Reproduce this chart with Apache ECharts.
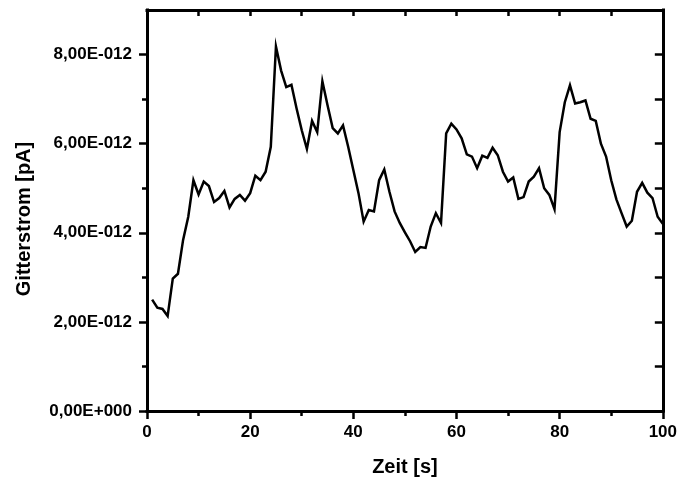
<!DOCTYPE html>
<html>
<head>
<meta charset="utf-8">
<script src="https://cdn.jsdelivr.net/npm/echarts@6/dist/echarts.min.js"></script>
<style>html,body{margin:0;padding:0;background:#fff}#c{width:680px;height:482px}</style>
</head>
<body>
<div id="c"></div>
<script>
// time in seconds
var time_s = [1,2,3,4,5,6,7,8,9,10,11,12,13,14,15,16,17,18,19,20,21,22,23,24,25,26,27,28,29,30,31,32,33,34,35,36,37,38,39,40,41,42,43,44,45,46,47,48,49,50,51,52,53,54,55,56,57,58,59,60,61,62,63,64,65,66,67,68,69,70,71,72,73,74,75,76,77,78,79,80,81,82,83,84,85,86,87,88,89,90,91,92,93,94,95,96,97,98,99,100];
// Gitterstrom in units of 1E-012
var current_e12 = [2.50,2.32,2.29,2.13,2.97,3.08,3.84,4.36,5.18,4.86,5.15,5.05,4.69,4.78,4.94,4.57,4.76,4.85,4.72,4.89,5.28,5.18,5.37,5.93,8.18,7.64,7.27,7.32,6.79,6.30,5.88,6.51,6.26,7.40,6.86,6.35,6.23,6.41,5.93,5.41,4.89,4.25,4.51,4.48,5.18,5.42,4.92,4.48,4.22,4.01,3.81,3.57,3.68,3.66,4.14,4.44,4.22,6.23,6.45,6.32,6.12,5.76,5.71,5.45,5.73,5.68,5.91,5.74,5.37,5.15,5.24,4.76,4.80,5.15,5.26,5.45,5.00,4.85,4.53,6.26,6.93,7.31,6.90,6.93,6.97,6.56,6.51,6.00,5.71,5.18,4.75,4.44,4.14,4.27,4.92,5.12,4.90,4.78,4.36,4.20];
var xTicks = [0,20,40,60,80,100];
var yTicks = [0,2,4,6,8];
var yMinorTicks = [1,3,5,7];

var data = time_s.map(function(t,i){return [t,current_e12[i]];});
var FONT = '"Liberation Sans", Arial, sans-serif';
function yFmt(v){
  if (Math.abs(v) < 1e-9) return '0,00E+000';
  return v.toFixed(2).replace('.', ',') + 'E-012';
}
var chart = echarts.init(document.getElementById('c'), null, {renderer:'canvas'});
function line(){ return {show:true, onZero:false, lineStyle:{color:'#000', width:3, cap:'square'}}; }
chart.setOption({
  animation:false,
  backgroundColor:'#fff',
  grid:{left:147, right:15, top:10, bottom:70, containLabel:false},
  xAxis:[{
    type:'value', min:xTicks[0], max:xTicks[xTicks.length-1], interval:20, position:'bottom',
    axisLine:line(),
    axisTick:{show:true, inside:false, length:8, lineStyle:{color:'#000', width:2.5}},
    minorTick:{show:true, splitNumber:2, length:5, lineStyle:{color:'#000', width:2.5}},
    splitLine:{show:false}, minorSplitLine:{show:false},
    axisLabel:{margin:13, color:'#000', fontFamily:FONT, fontWeight:'bold', fontSize:17},
    name:'Zeit [s]', nameLocation:'middle', nameGap:46,
    nameTextStyle:{color:'#000', fontFamily:FONT, fontWeight:'bold', fontSize:20}
  },{
    type:'value', min:0, max:100, interval:10, position:'top',
    axisLine:line(),
    axisTick:{show:true, inside:true, length:6, lineStyle:{color:'#000', width:2.5}},
    axisLabel:{show:false}, splitLine:{show:false}
  }],
  yAxis:[{
    type:'value', min:0, max:9, interval:2, position:'left',
    axisLine:line(),
    axisTick:{show:true, inside:false, length:8, customValues:yTicks, lineStyle:{color:'#000', width:2.5}},
    splitLine:{show:false},
    axisLabel:{margin:15, color:'#000', fontFamily:FONT, fontWeight:'bold', fontSize:17, formatter:yFmt,
      customValues:yTicks}
  },{
    type:'value', min:0, max:9, interval:1, position:'right',
    axisLine:line(),
    axisTick:{show:true, inside:true, length:8, lineStyle:{color:'#000', width:2.5}},
    axisLabel:{show:false}, splitLine:{show:false}
  },{
    type:'value', min:0, max:9, interval:1, position:'left',
    axisLine:{show:false, onZero:false},
    axisTick:{show:true, inside:false, length:5, customValues:yMinorTicks, lineStyle:{color:'#000', width:2.5}},
    axisLabel:{show:false}, splitLine:{show:false}
  }],
  graphic:[{
    type:'text', x:24, y:219, rotation:Math.PI/2,
    style:{text:'Gitterstrom [pA]', fill:'#000', font:'bold 20px ' + FONT, textAlign:'center', textVerticalAlign:'middle'}
  }],
  series:[{
    type:'line', data:data, xAxisIndex:0, yAxisIndex:0, showSymbol:false, symbol:'none',
    lineStyle:{color:'#000', width:2.5, join:'miter'}
  }]
});
</script>
</body>
</html>
